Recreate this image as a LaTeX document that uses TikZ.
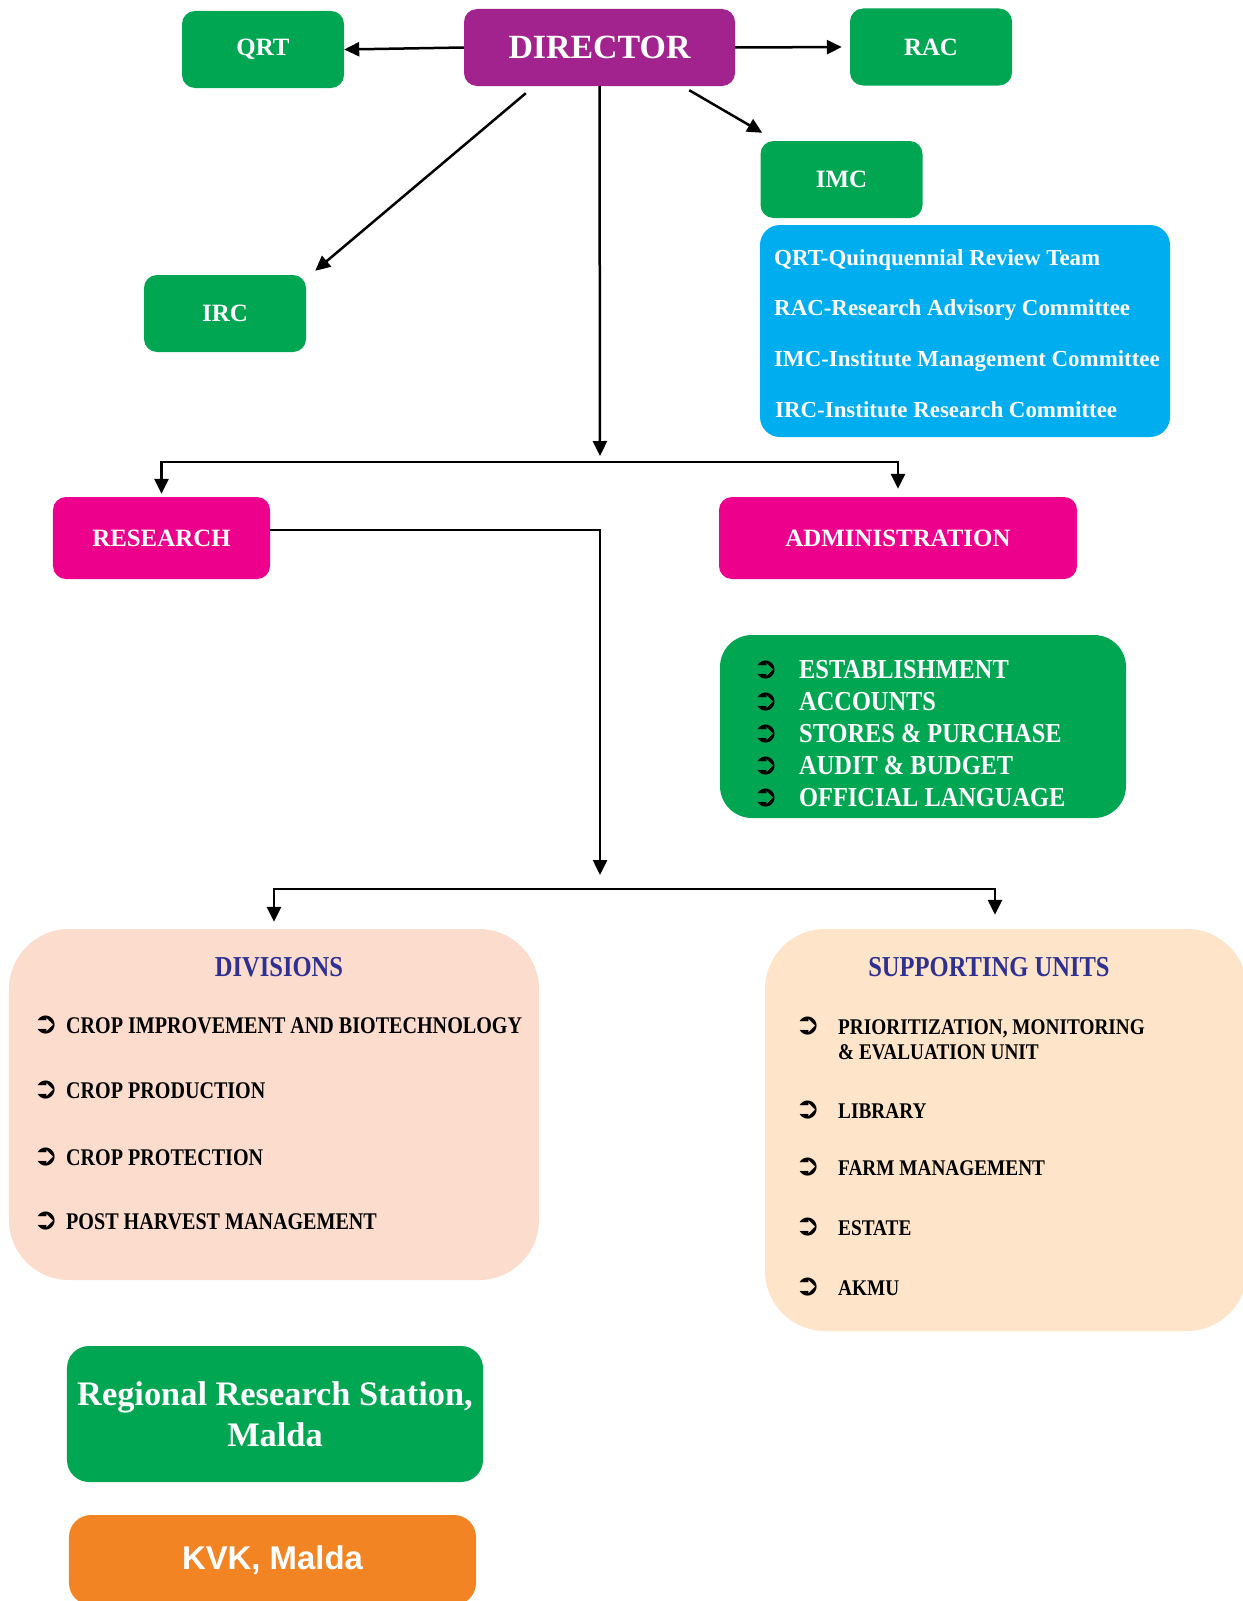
\documentclass[tikz,border=0pt]{standalone}
\usepackage{fontspec}
\setmainfont{Liberation Serif}
\setsansfont{Liberation Sans}
\newfontfamily\symfont{DejaVu Sans}
\newfontfamily\titlefont[FakeStretch=0.85]{Liberation Serif}
\newfontfamily\divfont[FakeStretch=0.84]{Liberation Serif}
\newfontfamily\unitfont[FakeStretch=0.86]{Liberation Serif}
\newfontfamily\adminfont[FakeStretch=0.89]{Liberation Serif}
\usetikzlibrary{arrows.meta, calc}

\definecolor{orgGreen}{HTML}{00A651}
\definecolor{orgPurple}{HTML}{A3238E}
\definecolor{orgMagenta}{HTML}{EC008C}
\definecolor{orgBlue}{HTML}{00AEEF}
\definecolor{orgOrange}{HTML}{F38423}
\definecolor{divFill}{HTML}{FCDCCD}
\definecolor{supFill}{HTML}{FEE4C9}
\definecolor{titleBlue}{HTML}{2E3192}

\newcommand{\arrowbullet}{\kern-4bp{\color{black}\symfont\fontsize{30}{30}\selectfont\raisebox{-0.5bp}{➲}}}

\begin{document}
\begin{tikzpicture}[x=1bp, y=-1bp,
        org_box/.style={
            rectangle, rounded corners=13bp, inner sep=0pt, align=center,
            text=white, font=\bfseries\fontsize{25}{30}\selectfont
        },
        green_box/.style={org_box, fill=orgGreen, minimum width=162bp, minimum height=77bp},
        head_box/.style={org_box, fill=orgMagenta, minimum height=82bp},
        list_text/.style={anchor=base west, inner sep=0pt},
        arr/.style={-{Triangle[length=15bp,width=14bp]}, line width=2.5bp}
    ]
    \useasboundingbox (0,0) rectangle (1242,1601);

    % Top level
    \node[org_box, fill=orgPurple, minimum width=271bp, minimum height=77bp,
          font=\bfseries\fontsize{34}{40}\selectfont] (dir) at (599.5,47.5) {DIRECTOR};
    \node[green_box] (qrt) at (263,49.5) {QRT};
    \node[green_box] (rac) at (931,47) {RAC};
    \node[green_box] (imc) at (841.5,179.5) {IMC};
    \node[green_box] (irc) at (225,313.5) {IRC};

    % Legend of the committees
    \node[org_box, fill=orgBlue, rounded corners=20bp, minimum width=410bp, minimum height=212bp] (legend) at (965,331) {};
    \node[list_text, text=white, font=\bfseries\fontsize{23}{28}\selectfont] (leg1) at (774,265) {QRT-Quinquennial Review Team};
    \node[list_text, text=white, font=\bfseries\fontsize{23}{28}\selectfont] (leg2) at (774,315) {RAC-Research Advisory Committee};
    \node[list_text, text=white, font=\bfseries\fontsize{23}{28}\selectfont] (leg3) at (774,366) {IMC-Institute Management Committee};
    \node[list_text, text=white, font=\bfseries\fontsize{23}{28}\selectfont] (leg4) at (775,417) {IRC-Institute Research Committee};

    % Research and administration
    \node[head_box, minimum width=217bp] (research) at (161.5,538) {RESEARCH};
    \node[head_box, minimum width=358bp] (admin) at (898,538) {ADMINISTRATION};

    \node[org_box, fill=orgGreen, rounded corners=32bp, minimum width=406bp, minimum height=183bp] (adminlist) at (923,726.5) {};
    \node[list_text, text=white, font=\adminfont\bfseries\fontsize{27.5}{30}\selectfont] (adm1) at (757,678) {\makebox[42bp][l]{\arrowbullet}ESTABLISHMENT};
    \node[list_text, text=white, font=\adminfont\bfseries\fontsize{27.5}{30}\selectfont] (adm2) at (757,710) {\makebox[42bp][l]{\arrowbullet}ACCOUNTS};
    \node[list_text, text=white, font=\adminfont\bfseries\fontsize{27.5}{30}\selectfont] (adm3) at (757,742) {\makebox[42bp][l]{\arrowbullet}STORES \& PURCHASE};
    \node[list_text, text=white, font=\adminfont\bfseries\fontsize{27.5}{30}\selectfont] (adm4) at (757,774) {\makebox[42bp][l]{\arrowbullet}AUDIT \& BUDGET};
    \node[list_text, text=white, font=\adminfont\bfseries\fontsize{27.5}{30}\selectfont] (adm5) at (757,806) {\makebox[42bp][l]{\arrowbullet}OFFICIAL LANGUAGE};

    % Divisions
    \node[org_box, fill=divFill, rounded corners=60bp, minimum width=530bp, minimum height=351bp] (div) at (274,1104.5) {};
    \node[anchor=base, inner sep=0pt, text=titleBlue, font=\titlefont\bfseries\fontsize{29}{34}\selectfont] (divtitle) at (279,976) {DIVISIONS};
    \node[list_text, font=\divfont\bfseries\fontsize{24}{28}\selectfont] (div1) at (37,1033) {\makebox[29bp][l]{\arrowbullet}CROP IMPROVEMENT AND BIOTECHNOLOGY};
    \node[list_text, font=\divfont\bfseries\fontsize{24}{28}\selectfont] (div2) at (37,1098) {\makebox[29bp][l]{\arrowbullet}CROP PRODUCTION};
    \node[list_text, font=\divfont\bfseries\fontsize{24}{28}\selectfont] (div3) at (37,1165) {\makebox[29bp][l]{\arrowbullet}CROP PROTECTION};
    \node[list_text, font=\divfont\bfseries\fontsize{24}{28}\selectfont] (div4) at (37,1229) {\makebox[29bp][l]{\arrowbullet}POST HARVEST MANAGEMENT};

    % Supporting units
    \node[org_box, fill=supFill, rounded corners=60bp, minimum width=482bp, minimum height=402bp] (sup) at (1006,1130) {};
    \node[anchor=base, inner sep=0pt, text=titleBlue, font=\titlefont\bfseries\fontsize{29}{34}\selectfont] (suptitle) at (989,976) {SUPPORTING UNITS};
    \node[list_text, font=\unitfont\bfseries\fontsize{22.5}{26}\selectfont] (sup1) at (799,1034) {\makebox[39bp][l]{\arrowbullet}PRIORITIZATION, MONITORING};
    \node[list_text, font=\unitfont\bfseries\fontsize{22.5}{26}\selectfont] (sup1b) at (838,1059) {\& EVALUATION UNIT};
    \node[list_text, font=\unitfont\bfseries\fontsize{22.5}{26}\selectfont] (sup2) at (799,1118) {\makebox[39bp][l]{\arrowbullet}LIBRARY};
    \node[list_text, font=\unitfont\bfseries\fontsize{22.5}{26}\selectfont] (sup3) at (799,1175) {\makebox[39bp][l]{\arrowbullet}FARM MANAGEMENT};
    \node[list_text, font=\unitfont\bfseries\fontsize{22.5}{26}\selectfont] (sup4) at (799,1235) {\makebox[39bp][l]{\arrowbullet}ESTATE};
    \node[list_text, font=\unitfont\bfseries\fontsize{22.5}{26}\selectfont] (sup5) at (799,1295) {\makebox[39bp][l]{\arrowbullet}AKMU};

    % Stations
    \node[org_box, fill=orgGreen, rounded corners=22bp, minimum width=416bp, minimum height=136bp,
          font=\bfseries\fontsize{34.5}{41}\selectfont] (rrs) at (275,1414) {Regional Research Station,\\Malda};
    \node[org_box, fill=orgOrange, rounded corners=22bp, minimum width=407bp, minimum height=90bp,
          font=\sffamily\bfseries\fontsize{33}{40}\selectfont] (kvk) at (272.5,1560) {KVK, Malda};

    % Connectors
    \coordinate (dirTip) at (600,456);
    \coordinate (topBus) at (600,462);
    \coordinate (resOut) at ([yshift=8bp]research.east);
    \coordinate (midTip) at (600,875);
    \coordinate (lowBus) at (600,889);

    \draw[arr] (dir.west) -- (qrt.east);
    \draw[arr, shorten >=8bp] (dir.east) -- (rac.west);
    \draw[arr] ($(dir.south east)+(-46,4)$) -- ($(imc.north west)+(2,-8)$);
    \draw[arr] ($(dir.south west)+(62,7)$) -- ($(irc.north east)+(9,-4)$);
    \draw[arr] (dir.south) -- (dirTip);
    \draw[arr, shorten >=3bp] (topBus) -- (research.north |- topBus) -- (research.north);
    \draw[arr, shorten >=8bp] (topBus) -- (admin.north |- topBus) -- (admin.north);
    \draw[arr] (resOut) -- (resOut -| midTip) -- (midTip);
    \draw[arr] (lowBus) -- (div.north |- lowBus) -- ($(div.north)+(0,-7)$);
    \draw[arr] (lowBus) -- ($(sup.north |- lowBus)+(-11,0)$) -- ($(sup.north)+(-11,-14)$);

\end{tikzpicture}
\end{document}
